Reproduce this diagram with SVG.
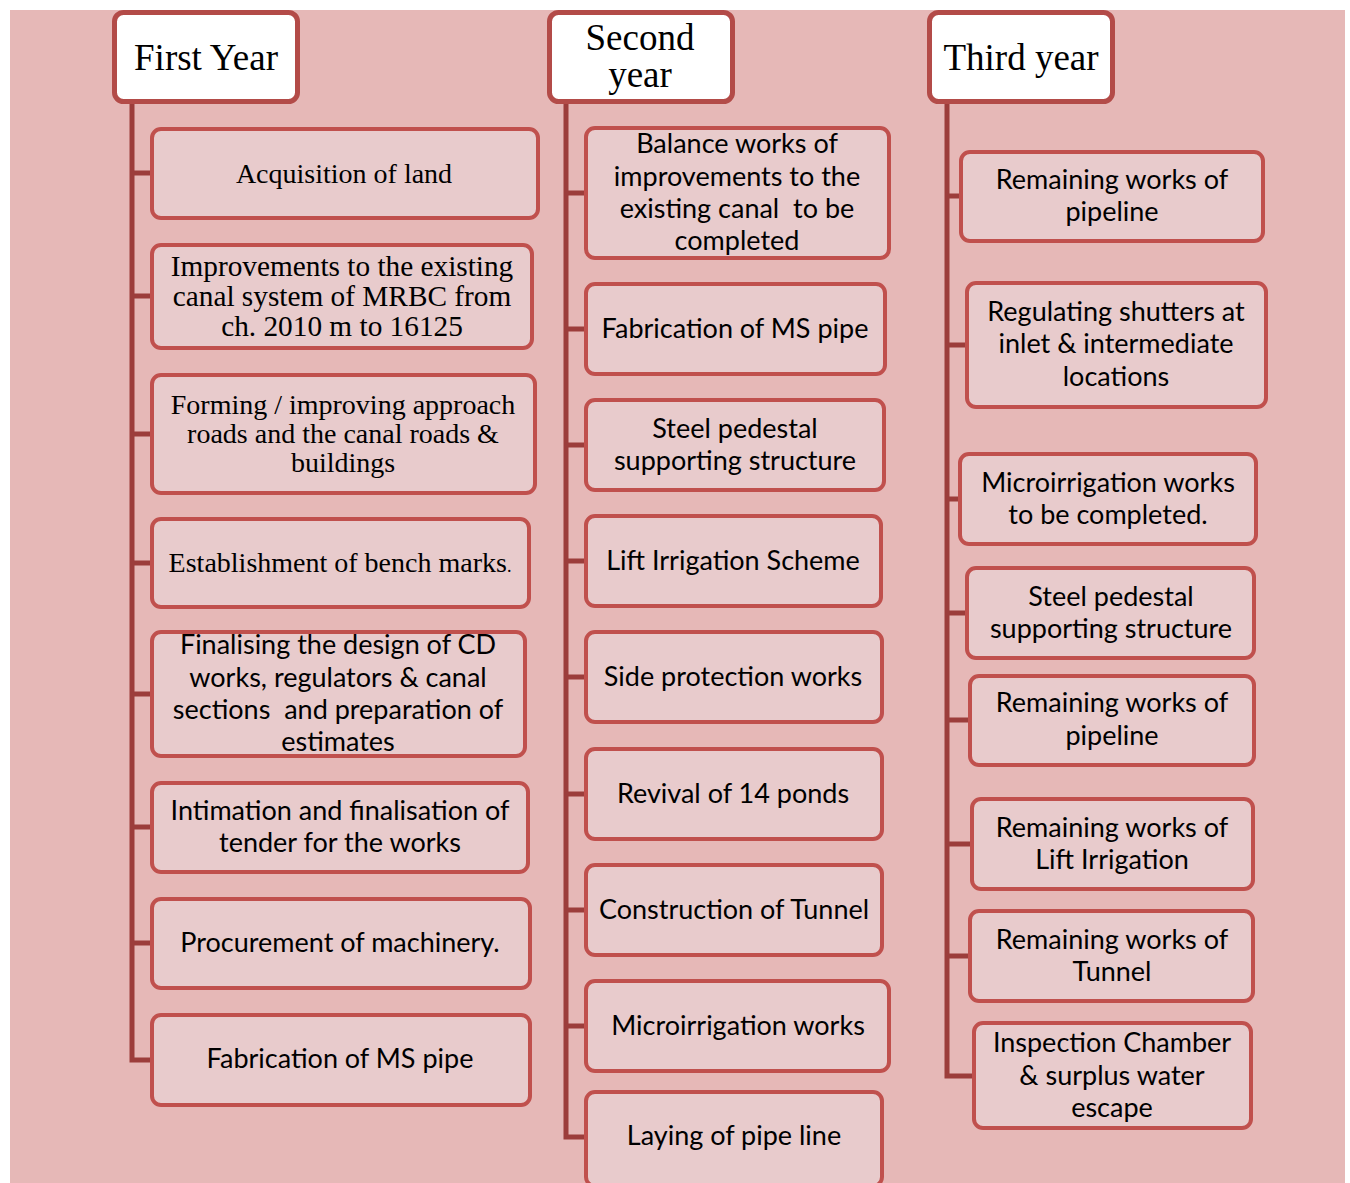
<svg xmlns="http://www.w3.org/2000/svg" width="1350" height="1183" viewBox="0 0 1350 1183">
<style>
.bg{fill:#E6B8B7}
.hd{fill:#FFFFFF;stroke:#B34B48;stroke-width:5}
.bx{fill:#E8CBCC;stroke:#C0504D;stroke-width:4}
.cn{fill:none;stroke:#9C3D3B;stroke-width:5}
.ht{font-family:"Liberation Serif",serif;font-size:37px;fill:#000;text-anchor:middle}
.st{font-family:"Liberation Serif",serif;font-size:28px;fill:#000;text-anchor:middle}
.st29{font-size:29.3px}
.ss{font-family:Lato,"Open Sans",sans-serif;font-size:27px;fill:#000;text-anchor:middle}
</style>
<rect width="1350" height="1183" fill="#FFFFFF"/>
<rect class="bg" x="10" y="10" width="1335" height="1173"/>
<g id="connectors">
<path class="cn" d="M132 104V1060H150M132 173H150M132 296H150M132 434H150M132 563H150M132 694H150M132 827H150M132 943H150"/>
<path class="cn" d="M566 104V1137H584M566 193H584M566 329H584M566 445H584M566 561H584M566 677H584M566 794H584M566 910H584M566 1026H584"/>
<path class="cn" d="M947 104V1076H972M947 196H959M947 345H965M947 499H958M947 613H965M947 720H968M947 844H970M947 956H968"/>
</g>
<g id="h1"><rect class="hd" x="114.5" y="12.5" width="183" height="89" rx="9"/><text class="ht" x="206" y="70">First Year</text></g>
<g id="h2"><rect class="hd" x="549.5" y="12.5" width="183" height="89" rx="9"/><text class="ht" x="640" y="50">Second</text><text class="ht" x="640" y="87">year</text></g>
<g id="h3"><rect class="hd" x="929.5" y="12.5" width="183" height="89" rx="9"/><text class="ht" x="1021" y="70">Third year</text></g>

<g id="a1"><rect class="bx" x="152" y="129" width="386" height="89" rx="9"/><text class="st" x="344" y="183">Acquisition of land</text></g>
<g id="a2"><rect class="bx" x="152" y="245" width="380" height="103" rx="9"/><text class="st st29" x="342" y="276">Improvements to the existing</text><text class="st st29" x="342" y="306">canal system of MRBC from</text><text class="st st29" x="342" y="336">ch. 2010 m to 16125</text></g>
<g id="a3"><rect class="bx" x="152" y="375" width="383" height="118" rx="9"/><text class="st" x="343" y="414">Forming / improving approach</text><text class="st" x="343" y="443">roads and the canal roads &amp;</text><text class="st" x="343" y="472">buildings</text></g>
<g id="a4"><rect class="bx" x="152" y="519" width="377" height="88" rx="9"/><text class="st" x="340" y="572">Establishment of bench marks<tspan font-size="18px">.</tspan></text></g>
<g id="a5"><rect class="bx" x="152" y="632" width="373" height="124" rx="9"/><text class="ss" x="338" y="654">Finalising the design of CD</text><text class="ss" x="338" y="687">works, regulators &amp; canal</text><text class="ss" x="338" y="719" xml:space="preserve">sections  and preparation of</text><text class="ss" x="338" y="751">estimates</text></g>
<g id="a6"><rect class="bx" x="152" y="783" width="376" height="89" rx="9"/><text class="ss" x="340" y="820">Intimation and finalisation of</text><text class="ss" x="340" y="852">tender for the works</text></g>
<g id="a7"><rect class="bx" x="152" y="899" width="378" height="89" rx="9"/><text class="ss" x="340" y="952">Procurement of machinery.</text></g>
<g id="a8"><rect class="bx" x="152" y="1015" width="378" height="90" rx="9"/><text class="ss" x="340" y="1068">Fabrication of MS pipe</text></g>

<g id="b1"><rect class="bx" x="586" y="128" width="303" height="130" rx="9"/><text class="ss" x="737" y="153">Balance works of</text><text class="ss" x="737" y="186">improvements to the</text><text class="ss" x="737" y="218" xml:space="preserve">existing canal  to be</text><text class="ss" x="737" y="250">completed</text></g>
<g id="b2"><rect class="bx" x="586" y="284" width="299" height="90" rx="9"/><text class="ss" x="735" y="338">Fabrication of MS pipe</text></g>
<g id="b3"><rect class="bx" x="586" y="400" width="298" height="90" rx="9"/><text class="ss" x="735" y="438">Steel pedestal</text><text class="ss" x="735" y="470">supporting structure</text></g>
<g id="b4"><rect class="bx" x="586" y="516" width="295" height="90" rx="9"/><text class="ss" x="733" y="570">Lift Irrigation Scheme</text></g>
<g id="b5"><rect class="bx" x="586" y="632" width="296" height="90" rx="9"/><text class="ss" x="733" y="686">Side protection works</text></g>
<g id="b6"><rect class="bx" x="586" y="749" width="296" height="90" rx="9"/><text class="ss" x="733" y="803">Revival of 14 ponds</text></g>
<g id="b7"><rect class="bx" x="586" y="865" width="296" height="90" rx="9"/><text class="ss" x="734" y="919">Construction of Tunnel</text></g>
<g id="b8"><rect class="bx" x="586" y="981" width="303" height="90" rx="9"/><text class="ss" x="738" y="1035">Microirrigation works</text></g>
<g id="b9"><rect class="bx" x="586" y="1092" width="296" height="94" rx="9"/><text class="ss" x="734" y="1145">Laying of pipe line</text></g>

<g id="c1"><rect class="bx" x="961" y="152" width="302" height="89" rx="9"/><text class="ss" x="1112" y="189">Remaining works of</text><text class="ss" x="1112" y="221">pipeline</text></g>
<g id="c2"><rect class="bx" x="967" y="283" width="299" height="124" rx="9"/><text class="ss" x="1116" y="321">Regulating shutters at</text><text class="ss" x="1116" y="353">inlet &amp; intermediate</text><text class="ss" x="1116" y="386">locations</text></g>
<g id="c3"><rect class="bx" x="960" y="454" width="296" height="90" rx="9"/><text class="ss" x="1108" y="492">Microirrigation works</text><text class="ss" x="1108" y="524">to be completed.</text></g>
<g id="c4"><rect class="bx" x="967" y="568" width="287" height="90" rx="9"/><text class="ss" x="1111" y="606">Steel pedestal</text><text class="ss" x="1111" y="638">supporting structure</text></g>
<g id="c5"><rect class="bx" x="970" y="676" width="284" height="89" rx="9"/><text class="ss" x="1112" y="712">Remaining works of</text><text class="ss" x="1112" y="745">pipeline</text></g>
<g id="c6"><rect class="bx" x="972" y="799" width="281" height="90" rx="9"/><text class="ss" x="1112" y="837">Remaining works of</text><text class="ss" x="1112" y="869">Lift Irrigation</text></g>
<g id="c7"><rect class="bx" x="970" y="911" width="283" height="90" rx="9"/><text class="ss" x="1112" y="949">Remaining works of</text><text class="ss" x="1112" y="981">Tunnel</text></g>
<g id="c8"><rect class="bx" x="974" y="1023" width="277" height="105" rx="9"/><text class="ss" x="1112" y="1052">Inspection Chamber</text><text class="ss" x="1112" y="1085">&amp; surplus water</text><text class="ss" x="1112" y="1117">escape</text></g>
</svg>
